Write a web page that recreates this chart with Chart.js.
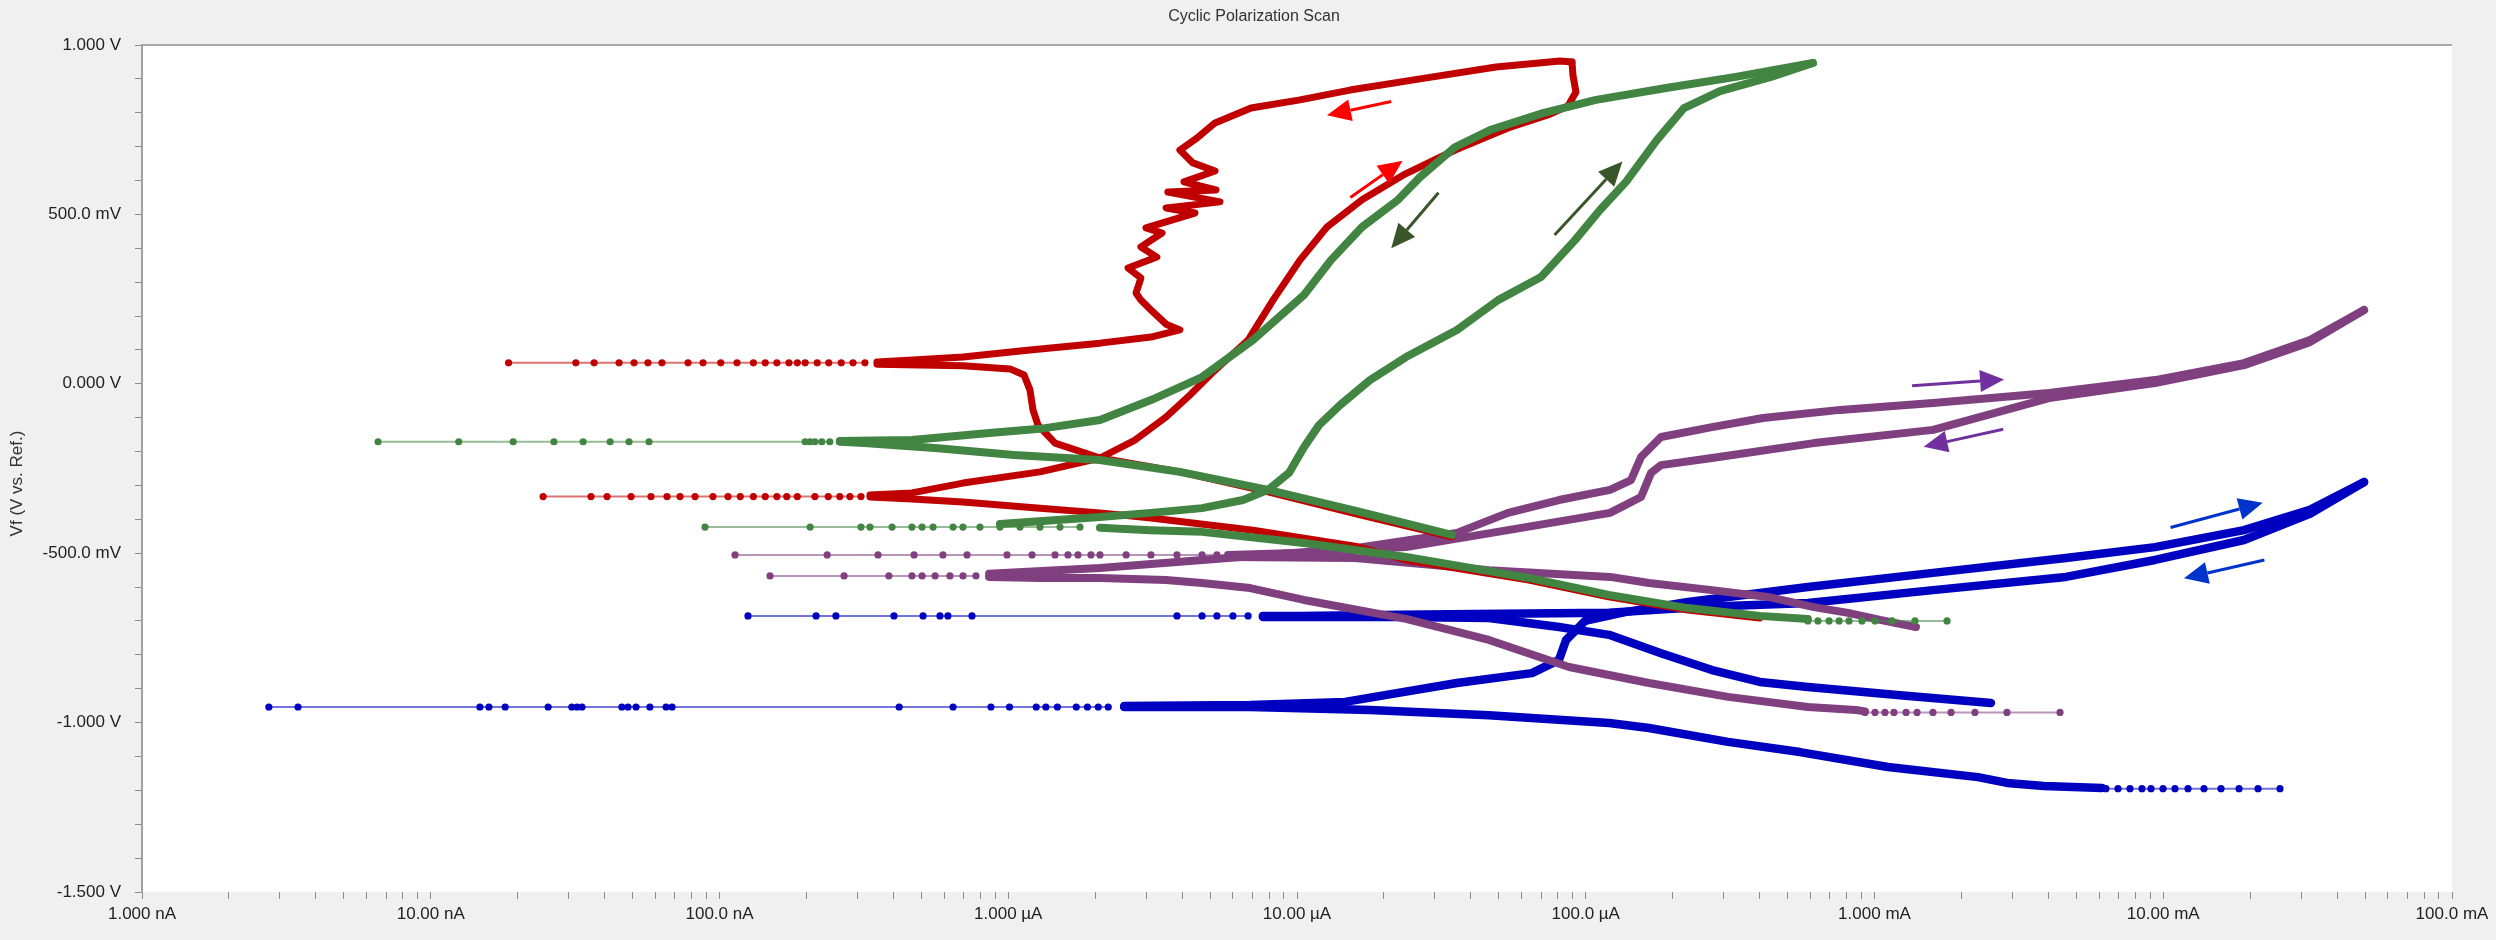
<!DOCTYPE html>
<html>
<head>
<meta charset="utf-8">
<script src="https://cdn.jsdelivr.net/npm/chart.js@4.4.1/dist/chart.umd.min.js"></script>
<style>
html,body{margin:0;padding:0;background:#F0F0F0;}
#wrap{width:2496px;height:940px;}
</style>
</head>
<body>
<div id="wrap"><canvas id="c" width="2496" height="940"></canvas></div>
<script>
// ---------------- texts & tick labels ----------------
const chartTitle = 'Cyclic Polarization Scan';
const yAxisTitle = 'Vf (V vs. Ref.)';
const xTickValues = [1e-9, 1e-8, 1e-7, 1e-6, 1e-5, 1e-4, 1e-3, 1e-2, 1e-1];
const xTickLabels = ['1.000 nA', '10.00 nA', '100.0 nA', '1.000 µA', '10.00 µA', '100.0 µA', '1.000 mA', '10.00 mA', '100.0 mA'];
const yTickValues = [1.0, 0.5, 0.0, -0.5, -1.0, -1.5];
const yTickLabels = ['1.000 V', '500.0 mV', '0.000 V', '-500.0 mV', '-1.000 V', '-1.500 V'];

// ---------------- RED (current in A, potential in V) ----------------
const redCathFwdI = [4.01e-4, 2.26e-4, 1.20e-4, 6.36e-5, 2.385e-5, 1.588e-5, 7.04e-6, 3.122e-6, 2.078e-6, 1.288e-6, 6.97e-7, 4.64e-7, 3.32e-7];
const redCathFwdV = [-0.691, -0.668, -0.629, -0.579, -0.520, -0.479, -0.432, -0.396, -0.381, -0.367, -0.349, -0.340, -0.334];
const redEcorr1I = [3.09e-7, 2.83e-7, 2.61e-7, 2.38e-7, 2.14e-7, 1.86e-7, 1.71e-7, 1.58e-7, 1.44e-7, 1.31e-7, 1.18e-7, 1.07e-7, 9.49e-8, 8.23e-8, 7.30e-8, 6.58e-8, 5.79e-8, 4.94e-8, 4.08e-8, 3.59e-8, 2.45e-8];
const redEcorr1V = [-0.333, -0.333, -0.333, -0.333, -0.333, -0.333, -0.333, -0.333, -0.333, -0.333, -0.333, -0.333, -0.333, -0.333, -0.333, -0.333, -0.333, -0.333, -0.333, -0.333, -0.333];
const redAnodFwdI = [3.32e-7, 4.64e-7, 6.97e-7, 1.288e-6, 2.078e-6, 2.748e-6, 3.52e-6, 4.26e-6, 5.08e-6, 6.77e-6, 8.26e-6, 1.024e-5, 1.270e-5, 1.680e-5, 2.366e-5, 3.53e-5, 5.38e-5, 7.52e-5, 8.68e-5, 9.25e-5, 9.03e-5, 8.96e-5];
const redAnodFwdV = [-0.328, -0.322, -0.293, -0.260, -0.219, -0.166, -0.098, -0.033, 0.032, 0.129, 0.247, 0.365, 0.463, 0.543, 0.619, 0.690, 0.755, 0.796, 0.820, 0.861, 0.911, 0.950];
const redRevI = [8.96e-5, 8.14e-5, 4.89e-5, 2.667e-5, 1.526e-5, 1.024e-5, 6.93e-6, 5.20e-6, 4.50e-6, 3.93e-6, 4.36e-6, 5.20e-6, 4.06e-6, 5.24e-6, 3.57e-6, 5.41e-6, 3.52e-6, 4.43e-6, 3.00e-6, 3.41e-6, 2.88e-6, 3.27e-6, 2.60e-6, 2.88e-6, 2.77e-6, 2.88e-6, 3.12e-6, 3.52e-6, 3.93e-6, 3.12e-6, 2.078e-6, 1.189e-6, 6.97e-7, 4.68e-7, 3.51e-7];
const redRevV = [0.950, 0.953, 0.935, 0.900, 0.867, 0.838, 0.814, 0.770, 0.725, 0.690, 0.652, 0.628, 0.596, 0.572, 0.566, 0.537, 0.519, 0.504, 0.460, 0.445, 0.404, 0.374, 0.342, 0.312, 0.268, 0.247, 0.218, 0.176, 0.159, 0.138, 0.120, 0.100, 0.079, 0.070, 0.064];
const redEcorr2I = [3.19e-7, 2.90e-7, 2.64e-7, 2.39e-7, 2.18e-7, 1.98e-7, 1.86e-7, 1.74e-7, 1.58e-7, 1.44e-7, 1.31e-7, 1.15e-7, 1.01e-7, 8.77e-8, 7.78e-8, 6.32e-8, 5.65e-8, 5.06e-8, 4.49e-8, 3.68e-8, 3.18e-8, 1.86e-8];
const redEcorr2V = [0.062, 0.062, 0.062, 0.062, 0.062, 0.062, 0.062, 0.062, 0.062, 0.062, 0.062, 0.062, 0.062, 0.062, 0.062, 0.062, 0.062, 0.062, 0.062, 0.062, 0.062, 0.062];
const redCathRevI = [3.51e-7, 6.97e-7, 1.014e-6, 1.134e-6, 1.189e-6, 1.218e-6, 1.268e-6, 1.452e-6, 2.078e-6, 3.93e-6, 7.94e-6, 1.653e-5, 3.44e-5];
const redCathRevV = [0.058, 0.053, 0.044, 0.026, -0.018, -0.077, -0.122, -0.175, -0.219, -0.260, -0.319, -0.387, -0.452];

// ---------------- GREEN ----------------
const greenStartI = [1.783e-3, 1.381e-3, 1.150e-3, 1.004e-3, 9.05e-4, 8.16e-4, 7.54e-4, 6.96e-4, 6.37e-4, 5.88e-4];
const greenStartV = [-0.700, -0.700, -0.700, -0.700, -0.700, -0.700, -0.700, -0.700, -0.700, -0.700];
const greenCathFwdI = [5.88e-4, 4.01e-4, 2.26e-4, 1.20e-4, 6.36e-5, 2.385e-5, 1.057e-5, 4.69e-6, 3.10e-6, 2.078e-6];
const greenCathFwdV = [-0.694, -0.685, -0.662, -0.623, -0.573, -0.511, -0.470, -0.437, -0.432, -0.425];
const greenEcorr1I = [1.772e-6, 1.511e-6, 1.288e-6, 1.098e-6, 9.36e-7, 7.98e-7, 6.97e-7, 6.44e-7, 5.49e-7, 5.03e-7, 4.64e-7, 3.96e-7, 3.32e-7, 3.09e-7, 2.06e-7, 8.91e-8];
const greenEcorr1V = [-0.423, -0.423, -0.423, -0.423, -0.423, -0.423, -0.423, -0.423, -0.423, -0.423, -0.423, -0.423, -0.423, -0.423, -0.423, -0.423];
const greenAnodFwdI = [9.36e-7, 2.078e-6, 3.12e-6, 4.69e-6, 6.50e-6, 7.94e-6, 9.38e-6, 1.057e-5, 1.192e-5, 1.409e-5, 1.789e-5, 2.385e-5, 3.58e-5, 4.97e-5, 7.00e-5, 9.18e-5, 1.120e-4, 1.378e-4, 1.765e-4, 2.189e-4, 2.917e-4, 4.38e-4, 6.12e-4];
const greenAnodFwdV = [-0.414, -0.393, -0.381, -0.367, -0.343, -0.313, -0.263, -0.187, -0.122, -0.063, 0.011, 0.079, 0.159, 0.247, 0.315, 0.424, 0.513, 0.596, 0.720, 0.814, 0.864, 0.906, 0.947];
const greenRevI = [6.12e-4, 3.31e-4, 1.897e-4, 1.085e-4, 7.11e-5, 4.66e-5, 3.53e-5, 2.667e-5, 2.238e-5, 1.680e-5, 1.311e-5, 1.057e-5, 7.04e-6, 4.69e-6, 3.12e-6, 2.078e-6, 1.288e-6, 8.58e-7, 4.64e-7, 2.61e-7];
const greenRevV = [0.947, 0.906, 0.873, 0.838, 0.799, 0.749, 0.699, 0.610, 0.543, 0.463, 0.365, 0.262, 0.129, 0.020, -0.048, -0.107, -0.133, -0.145, -0.166, -0.169];
const greenEcorr2I = [2.41e-7, 2.26e-7, 2.14e-7, 2.06e-7, 1.98e-7, 5.70e-8, 4.86e-8, 4.18e-8, 3.37e-8, 2.67e-8, 1.93e-8, 1.25e-8, 6.57e-9];
const greenEcorr2V = [-0.171, -0.171, -0.171, -0.171, -0.171, -0.171, -0.171, -0.171, -0.171, -0.171, -0.171, -0.171, -0.171];
const greenCathRevI = [2.61e-7, 3.17e-7, 5.71e-7, 1.047e-6, 2.078e-6, 3.93e-6, 7.94e-6, 1.653e-5, 3.44e-5];
const greenCathRevV = [-0.171, -0.175, -0.190, -0.210, -0.225, -0.260, -0.313, -0.378, -0.446];

// ---------------- PURPLE ----------------
const purpleStartI = [4.39e-3, 2.876e-3, 2.228e-3, 1.841e-3, 1.594e-3, 1.404e-3, 1.286e-3, 1.168e-3, 1.087e-3, 1.004e-3, 9.27e-4];
const purpleStartV = [-0.970, -0.970, -0.970, -0.970, -0.970, -0.970, -0.970, -0.970, -0.970, -0.970, -0.970];
const purpleCathFwdI = [9.27e-4, 8.63e-4, 5.88e-4, 3.11e-4, 1.656e-4, 8.75e-5, 4.62e-5, 2.385e-5, 1.057e-5, 6.88e-6, 4.69e-6, 3.52e-6, 2.078e-6, 1.288e-6, 8.58e-7];
const purpleCathFwdV = [-0.967, -0.963, -0.954, -0.924, -0.883, -0.836, -0.756, -0.694, -0.638, -0.603, -0.588, -0.579, -0.573, -0.573, -0.570];
const purpleEcorr1I = [7.73e-7, 6.97e-7, 6.28e-7, 5.58e-7, 5.03e-7, 4.64e-7, 3.86e-7, 2.70e-7, 1.496e-7];
const purpleEcorr1V = [-0.567, -0.567, -0.567, -0.567, -0.567, -0.567, -0.567, -0.567, -0.567];
const purpleAnodFwdI = [8.58e-7, 2.078e-6, 5.77e-6, 1.588e-5, 3.58e-5, 5.38e-5, 8.08e-5, 1.213e-4, 1.435e-4, 1.554e-4, 1.822e-4, 2.736e-4, 4.11e-4, 7.60e-4, 1.594e-3, 4.02e-3, 9.36e-3, 1.904e-2, 3.22e-2, 4.96e-2];
const purpleAnodFwdV = [-0.561, -0.544, -0.514, -0.485, -0.440, -0.381, -0.343, -0.313, -0.284, -0.216, -0.157, -0.128, -0.101, -0.077, -0.057, -0.027, 0.011, 0.061, 0.129, 0.218];
const purpleRevI = [4.96e-2, 3.22e-2, 1.904e-2, 9.36e-3, 4.02e-3, 1.594e-3, 6.17e-4, 2.736e-4, 1.822e-4, 1.683e-4, 1.554e-4, 1.213e-4, 5.38e-5, 2.385e-5, 1.057e-5, 5.77e-6];
const purpleRevV = [0.218, 0.123, 0.055, 0.002, -0.042, -0.136, -0.175, -0.219, -0.240, -0.263, -0.334, -0.381, -0.432, -0.482, -0.499, -0.505];
const purpleEcorr2I = [5.28e-6, 4.69e-6, 3.84e-6, 3.12e-6, 2.56e-6, 2.078e-6, 1.934e-6, 1.744e-6, 1.610e-6, 1.452e-6, 1.209e-6, 9.90e-7, 7.20e-7, 5.94e-7, 4.72e-7, 3.54e-7, 2.36e-7, 1.132e-7];
const purpleEcorr2V = [-0.505, -0.505, -0.505, -0.505, -0.505, -0.505, -0.505, -0.505, -0.505, -0.505, -0.505, -0.505, -0.505, -0.505, -0.505, -0.505, -0.505, -0.505];
const purpleCathRevI = [5.77e-6, 1.588e-5, 4.62e-5, 1.213e-4, 1.656e-4, 2.736e-4, 4.28e-4, 6.17e-4, 8.10e-4, 1.045e-3, 1.392e-3];
const purpleCathRevV = [-0.511, -0.514, -0.550, -0.570, -0.588, -0.609, -0.629, -0.659, -0.676, -0.697, -0.718];

// ---------------- BLUE ----------------
const blueStartI = [2.537e-2, 2.129e-2, 1.830e-2, 1.585e-2, 1.384e-2, 1.218e-2, 1.098e-2, 9.98e-3, 9.07e-3, 8.44e-3, 7.67e-3, 6.97e-3, 6.33e-3];
const blueStartV = [-1.195, -1.195, -1.195, -1.195, -1.195, -1.195, -1.195, -1.195, -1.195, -1.195, -1.195, -1.195, -1.195];
const blueCathFwdI = [6.14e-3, 3.86e-3, 2.876e-3, 2.282e-3, 1.113e-3, 5.52e-4, 3.11e-4, 1.656e-4, 1.204e-4, 4.62e-5, 1.789e-5, 6.88e-6, 2.52e-6];
const blueCathFwdV = [-1.193, -1.187, -1.178, -1.161, -1.131, -1.087, -1.057, -1.016, -1.001, -0.978, -0.963, -0.954, -0.954];
const blueEcorr1I = [2.22e-6, 2.05e-6, 1.88e-6, 1.72e-6, 1.48e-6, 1.35e-6, 1.25e-6, 1.01e-6, 8.71e-7, 6.44e-7, 4.19e-7, 6.85e-8, 6.53e-8, 5.74e-8, 5.14e-8, 4.82e-8, 4.59e-8, 3.34e-8, 3.21e-8, 3.08e-8, 2.55e-8, 1.81e-8, 1.59e-8, 1.48e-8, 3.47e-9, 2.75e-9];
const blueEcorr1V = [-0.954, -0.954, -0.954, -0.954, -0.954, -0.954, -0.954, -0.954, -0.954, -0.954, -0.954, -0.954, -0.954, -0.954, -0.954, -0.954, -0.954, -0.954, -0.954, -0.954, -0.954, -0.954, -0.954, -0.954, -0.954, -0.954];
const blueAnodFwdI = [2.52e-6, 6.88e-6, 1.467e-5, 3.58e-5, 6.51e-5, 8.08e-5, 8.55e-5, 9.94e-5, 1.367e-4, 2.26e-4, 5.88e-4, 1.594e-3, 4.60e-3, 9.36e-3, 1.904e-2, 3.22e-2, 4.96e-2];
const blueAnodFwdV = [-0.951, -0.948, -0.939, -0.883, -0.854, -0.815, -0.756, -0.700, -0.674, -0.644, -0.600, -0.558, -0.514, -0.482, -0.432, -0.372, -0.290];
const blueRevI = [4.96e-2, 3.22e-2, 1.904e-2, 9.36e-3, 4.60e-3, 1.594e-3, 5.88e-4, 2.487e-4, 1.204e-4, 5.05e-5, 2.274e-5, 1.024e-5, 7.62e-6];
const blueRevV = [-0.290, -0.384, -0.461, -0.520, -0.570, -0.609, -0.647, -0.659, -0.676, -0.679, -0.682, -0.685, -0.685];
const blueEcorr2I = [6.77e-6, 6.00e-6, 5.28e-6, 4.69e-6, 3.84e-6, 7.49e-7, 6.18e-7, 5.80e-7, 5.07e-7, 4.02e-7, 2.53e-7, 2.16e-7, 1.255e-7];
const blueEcorr2V = [-0.685, -0.685, -0.685, -0.685, -0.685, -0.685, -0.685, -0.685, -0.685, -0.685, -0.685, -0.685, -0.685];
const blueCathRevI = [7.62e-6, 2.274e-5, 4.62e-5, 8.08e-5, 1.204e-4, 1.822e-4, 2.736e-4, 4.01e-4, 5.88e-4, 1.226e-3, 2.532e-3];
const blueCathRevV = [-0.688, -0.688, -0.691, -0.718, -0.741, -0.795, -0.845, -0.880, -0.895, -0.919, -0.942];

// ---------------- scan-direction arrows (data space) ----------------
const arrowFromI = [2.12e-5, 1.53e-5, 3.09e-5, 7.80e-5, 1.35e-3, 2.79e-3, 1.06e-2, 2.24e-2];
const arrowFromV = [0.833, 0.550, 0.564, 0.439, -0.006, -0.134, -0.424, -0.520];
const arrowToI = [1.27e-5, 2.32e-5, 2.12e-5, 1.34e-4, 2.81e-3, 1.48e-3, 2.21e-2, 1.18e-2];
const arrowToV = [0.793, 0.658, 0.400, 0.656, 0.013, -0.186, -0.351, -0.574];

// ---------------- styles ----------------
const FONT = '"Liberation Sans", Arial, Helvetica, sans-serif';
const C_RED = '#C00000', C_GREEN = '#428542', C_PURPLE = '#804080', C_BLUE = '#0000C0';
const ARROW_COLORS = ['#FF0000', '#FF0000', '#38562A', '#38562A', '#7030A0', '#7030A0', '#0033CC', '#0033CC'];

function pts(I, V) { return I.map((x, i) => ({ x: x, y: V[i] })); }
function dense(I, V, color, w) {
  return { data: pts(I, V), showLine: true, borderColor: color, backgroundColor: color,
           borderWidth: w, pointRadius: 0, pointHoverRadius: 0, borderCapStyle: 'round',
           borderJoinStyle: 'round', tension: 0 };
}
function dots(I, V, color, lineColor) {
  return { data: pts(I, V), showLine: true, borderColor: lineColor, backgroundColor: color,
           pointBackgroundColor: color, pointBorderWidth: 0, borderWidth: 2,
           pointRadius: 3.6, pointHoverRadius: 3.6, tension: 0 };
}

const datasets = [
  dots(greenStartI, greenStartV, C_GREEN, 'rgba(66,133,66,0.55)'),
  dense(greenCathFwdI, greenCathFwdV, C_GREEN, 8),
  dots(greenEcorr1I, greenEcorr1V, C_GREEN, 'rgba(66,133,66,0.55)'),
  dense(greenAnodFwdI, greenAnodFwdV, C_GREEN, 8),
  dense(greenRevI, greenRevV, C_GREEN, 8),
  dots(greenEcorr2I, greenEcorr2V, C_GREEN, 'rgba(66,133,66,0.55)'),
  dense(greenCathRevI, greenCathRevV, C_GREEN, 8),
  dense(redCathFwdI, redCathFwdV, C_RED, 7),
  dots(redEcorr1I, redEcorr1V, C_RED, 'rgba(192,0,0,0.55)'),
  dense(redAnodFwdI, redAnodFwdV, C_RED, 7),
  dense(redRevI, redRevV, C_RED, 7),
  dots(redEcorr2I, redEcorr2V, C_RED, 'rgba(192,0,0,0.55)'),
  dense(redCathRevI, redCathRevV, C_RED, 7),
  dots(purpleStartI, purpleStartV, C_PURPLE, 'rgba(128,64,128,0.55)'),
  dense(purpleCathFwdI, purpleCathFwdV, C_PURPLE, 8),
  dots(purpleEcorr1I, purpleEcorr1V, C_PURPLE, 'rgba(128,64,128,0.55)'),
  dense(purpleAnodFwdI, purpleAnodFwdV, C_PURPLE, 8),
  dense(purpleRevI, purpleRevV, C_PURPLE, 8),
  dots(purpleEcorr2I, purpleEcorr2V, C_PURPLE, 'rgba(128,64,128,0.55)'),
  dense(purpleCathRevI, purpleCathRevV, C_PURPLE, 8),
  dots(blueStartI, blueStartV, C_BLUE, 'rgba(0,0,192,0.55)'),
  dense(blueCathFwdI, blueCathFwdV, C_BLUE, 8.5),
  dots(blueEcorr1I, blueEcorr1V, C_BLUE, 'rgba(0,0,192,0.55)'),
  dense(blueAnodFwdI, blueAnodFwdV, C_BLUE, 8.5),
  dense(blueRevI, blueRevV, C_BLUE, 8.5),
  dots(blueEcorr2I, blueEcorr2V, C_BLUE, 'rgba(0,0,192,0.55)'),
  dense(blueCathRevI, blueCathRevV, C_BLUE, 8.5)
];

const backgroundPlugin = {
  id: 'bg',
  beforeDraw(chart) {
    const { ctx, chartArea: a } = chart;
    ctx.save();
    ctx.fillStyle = '#F0F0F0';
    ctx.fillRect(0, 0, chart.width, chart.height);
    ctx.fillStyle = '#FFFFFF';
    ctx.fillRect(a.left, a.top, a.right - a.left, a.bottom - a.top);
    ctx.strokeStyle = '#A8A8A8';
    ctx.lineWidth = 2;
    ctx.beginPath();
    ctx.moveTo(a.left, a.top);
    ctx.lineTo(a.right, a.top);
    ctx.stroke();
    ctx.restore();
  }
};

const textPlugin = {
  id: 'texts',
  afterDraw(chart) {
    const { ctx, chartArea: a } = chart;
    ctx.save();
    ctx.fillStyle = '#333333';
    ctx.textAlign = 'center';
    ctx.textBaseline = 'middle';
    ctx.font = '16px ' + FONT;
    ctx.fillText(chartTitle, 1254, 17);
    ctx.translate(17, (a.top + a.bottom) / 2 + 15);
    ctx.rotate(-Math.PI / 2);
    ctx.font = '17px ' + FONT;
    ctx.fillText(yAxisTitle, 0, 0);
    ctx.restore();
  }
};

const arrowPlugin = {
  id: 'arrows',
  afterDatasetsDraw(chart) {
    const { ctx, scales: { x, y } } = chart;
    ctx.save();
    for (let i = 0; i < arrowFromI.length; i++) {
      const x0 = x.getPixelForValue(arrowFromI[i]), y0 = y.getPixelForValue(arrowFromV[i]);
      const x1 = x.getPixelForValue(arrowToI[i]), y1 = y.getPixelForValue(arrowToV[i]);
      const ang = Math.atan2(y1 - y0, x1 - x0);
      const headLen = 24, headHalf = 11;
      const bx = x1 - headLen * Math.cos(ang), by = y1 - headLen * Math.sin(ang);
      ctx.strokeStyle = ARROW_COLORS[i];
      ctx.fillStyle = ARROW_COLORS[i];
      ctx.lineWidth = 3;
      ctx.beginPath();
      ctx.moveTo(x0, y0);
      ctx.lineTo(bx, by);
      ctx.stroke();
      ctx.beginPath();
      ctx.moveTo(x1, y1);
      ctx.lineTo(bx + headHalf * Math.sin(ang), by - headHalf * Math.cos(ang));
      ctx.lineTo(bx - headHalf * Math.sin(ang), by + headHalf * Math.cos(ang));
      ctx.closePath();
      ctx.fill();
    }
    ctx.restore();
  }
};

function labelFor(values, labels, v, rel) {
  for (let i = 0; i < values.length; i++) {
    const ref = values[i];
    if (rel ? Math.abs(v - ref) <= Math.abs(ref) * 1e-6 : Math.abs(v - ref) < 1e-6) return labels[i];
  }
  return '';
}

new Chart(document.getElementById('c'), {
  type: 'scatter',
  data: { datasets: datasets },
  plugins: [backgroundPlugin, arrowPlugin, textPlugin],
  options: {
    responsive: false,
    animation: false,
    events: [],
    devicePixelRatio: 1,
    layout: { padding: { left: 0, right: 44, top: 45, bottom: 0 } },
    plugins: {
      legend: { display: false },
      tooltip: { enabled: false },
      title: { display: false }
    },
    scales: {
      x: {
        type: 'logarithmic',
        min: 1e-9,
        max: 1e-1,
        afterFit(scale) { scale.height = 48; },
        afterBuildTicks(scale) {
          const t = [];
          for (let d = 0; d < xTickValues.length - 1; d++) {
            for (let k = 1; k <= 9; k++) t.push({ value: k * xTickValues[d] });
          }
          t.push({ value: xTickValues[xTickValues.length - 1] });
          scale.ticks = t;
        },
        grid: { display: true, drawOnChartArea: false, drawTicks: true, tickLength: 7, color: '#8C8C8C', lineWidth: 1 },
        border: { display: false },
        ticks: {
          autoSkip: false, maxRotation: 0, minRotation: 0, padding: 7,
          color: '#222222',
          font: { family: FONT, size: 17, lineHeight: 1 },
          callback: (v) => labelFor(xTickValues, xTickLabels, v, true)
        }
      },
      y: {
        type: 'linear',
        min: -1.5,
        max: 1.0,
        afterFit(scale) { scale.width = 142; },
        afterBuildTicks(scale) {
          const t = [];
          for (let k = -15; k <= 10; k++) t.push({ value: k / 10 });
          scale.ticks = t;
        },
        grid: { display: true, drawOnChartArea: false, drawTicks: true, tickLength: 7, color: '#8C8C8C', lineWidth: 1 },
        border: { display: true, color: '#A0A0A0', width: 2 },
        ticks: {
          autoSkip: false, padding: 14,
          color: '#222222',
          font: { family: FONT, size: 17 },
          callback: (v) => labelFor(yTickValues, yTickLabels, v, false)
        }
      }
    }
  }
});
</script>
</body>
</html>
